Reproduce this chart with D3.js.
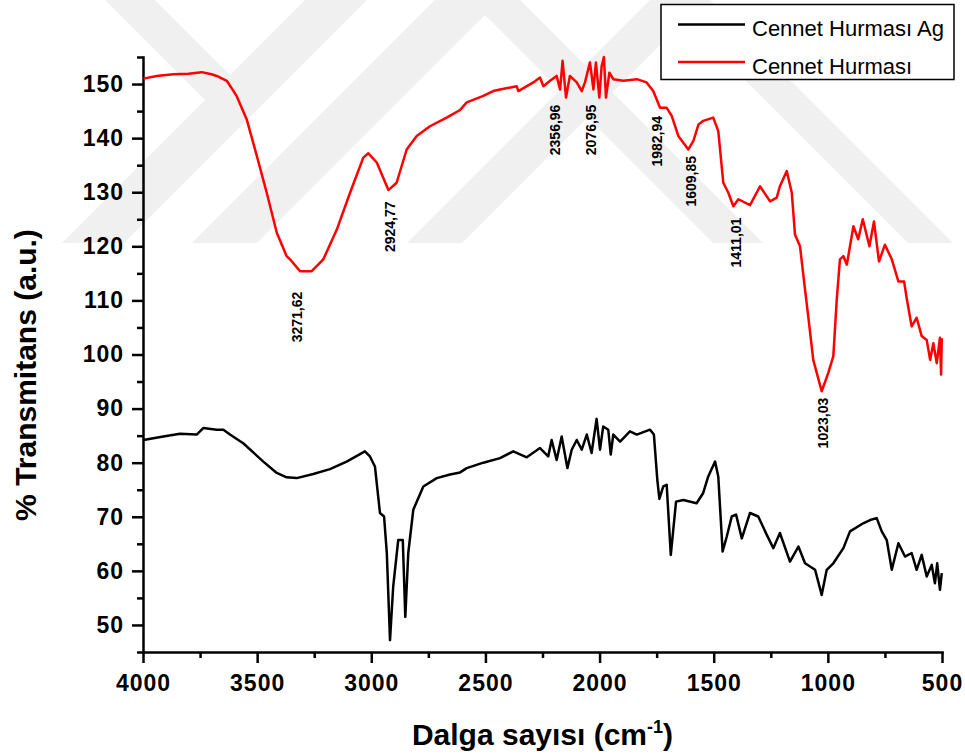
<!DOCTYPE html>
<html>
<head>
<meta charset="utf-8">
<title>FTIR - Cennet Hurması</title>
<script src="https://cdn.jsdelivr.net/npm/d3@7"></script>
<style>
body { margin: 0; background: #fff; }
svg text { font-family: "Liberation Sans", Arial, sans-serif; fill: #000; }
.axis path, .axis line { stroke: #000; stroke-width: 2.5; }
.axis text { font-size: 23px; font-weight: bold; letter-spacing: 1px; }
.spec { fill: none; stroke-width: 2.5; stroke-linejoin: round; }
.peak { font-size: 14px; font-weight: bold; }
.title { font-size: 30px; font-weight: bold; }
.legend text { font-size: 22px; }
</style>
</head>
<body>
<svg id="chart" width="965" height="755"></svg>
<script>
// series names
const seriesNames = ["Cennet Hurması Ag", "Cennet Hurması"];
const seriesColors = ["#000000", "#ff0000"];

// red: Cennet Hurması  [wavenumber, %T]
const redSpectrum = [
  [3998,151.0],[3940,151.5],[3867,151.8],[3800,151.9],[3743,152.2],[3700,151.8],[3677,151.5],
  [3633,150.6],[3590,147.8],[3546,143.5],[3502,136.8],[3458,129.9],[3414,122.5],[3371,118.2],
  [3356,117.6],[3312,115.4],[3261,115.4],[3210,117.6],[3151,123.1],[3093,129.9],[3035,136.4],
  [3013,137.2],[2976,135.5],[2925,130.4],[2889,131.75],[2845,137.9],[2801,140.4],[2743,142.2],
  [2670,143.8],[2611,145.2],[2582,146.6],[2509,147.8],[2466,148.7],[2436,149.0],[2363,149.6],
  [2356,148.7],[2290,150.3],[2261,151.2],[2246,149.6],
  [2217,150.6],[2188,151.5],[2173,149.0],[2162,154.3],[2147,147.5],[2130,151.5],[2100,150.3],
  [2078,148.7],[2064,150.3],[2042,154.0],[2027,149.0],[2016,154.0],[2001,147.5],[1991,153.3],
  [1981,155.0],[1972,147.5],[1957,152.1],[1940,150.9],[1896,150.6],[1837,150.9],[1794,150.3],
  [1765,148.7],[1735,145.6],[1706,145.6],[1684,144.1],[1655,140.4],[1611,137.9],[1589,139.5],
  [1567,142.5],[1546,143.2],[1502,143.8],[1480,141.3],[1458,131.75],[1436,129.9],[1414,127.4],
  [1392,128.7],[1341,127.6],[1297,131.1],[1253,128.3],[1224,129.0],[1210,131.1],[1180,133.9],
  [1158,129.9],[1144,122.2],[1122,120.0],[1100,112.0],[1086,107.1],[1064,99.0],[1027,93.2],
  [998,96.6],[976,99.7],[961,110.2],[947,117.6],[932,118.2],[917,116.6],[903,120.0],[888,123.7],
  [867,121.3],[847,125.0],[818,120.0],[798,124.6],[776,117.2],[750,120.3],[720,117.6],[691,113.5],
  [666,113.5],[655,110.5],[633,105.2],[611,106.8],[589,103.4],[567,102.7],[552,99.0],[538,102.1],
  [523,98.4],[509,103.1],[504,96.3],[501,103.0]
];

// black: Cennet Hurması Ag  [wavenumber, %T]
const blackSpectrum = [
  [3998,84.2],[3911,84.85],[3838,85.35],[3765,85.2],[3736,86.4],[3677,86.1],[3648,86.1],
  [3619,85.2],[3561,83.6],[3473,80.2],[3414,78.1],[3371,77.3],[3327,77.15],[3254,77.9],
  [3181,78.8],[3108,80.2],[3028,82.1],[3006,81.15],[2984,79.3],[2962,70.7],[2944,70.05],
  [2932,63.3],[2918,47.2],[2904,57.1],[2882,65.7],[2862,65.7],[2851,51.5],[2838,63.3],
  [2816,71.3],[2772,75.6],[2713,77.15],[2655,77.8],[2611,78.2],[2582,79.0],[2509,80.0],
  [2436,80.85],[2378,82.1],[2319,81.0],[2261,82.7],[2225,81.15],[2210,84.2],[2188,80.5],
  [2166,84.85],[2141,79.0],[2122,82.4],[2100,84.2],[2078,82.4],[2056,85.2],[2035,81.8],
  [2013,88.1],[1998,82.4],[1984,86.7],[1962,86.1],[1951,81.5],[1940,85.2],[1910,83.9],
  [1867,85.8],[1837,85.2],[1779,86.1],[1762,85.2],[1747,76.8],[1738,73.3],[1721,75.6],
  [1706,75.9],[1688,62.95],[1665,72.8],[1633,73.1],[1575,72.5],[1546,74.4],[1524,77.45],
  [1494,80.2],[1480,77.45],[1461,63.6],[1443,66.3],[1421,70.05],[1402,70.4],[1377,66.0],
  [1341,70.7],[1305,70.05],[1268,66.7],[1239,64.2],[1210,67.0],[1166,61.7],[1129,64.5],
  [1100,61.4],[1056,60.2],[1027,55.55],[1005,60.2],[976,61.4],[932,64.2],[903,67.3],
  [845,68.8],[815,69.4],[786,69.75],[764,67.3],[742,65.7],[720,60.2],[691,65.1],[662,62.65],
  [633,63.3],[611,60.2],[589,62.95],[567,58.95],[545,61.1],[531,57.7],[521,61.4],[509,56.5],
  [501,59.6]
];

// peak labels: text, label centre (cm-1), label top (%T)
const peakLabels = ["3271,62","2924,77","2356,96","2076,95","1982,94","1609,85","1411,01","1023,03"];
const peakX      = [3327, 2918, 2195, 2039, 1748, 1598, 1404, 1020];
const peakTop    = [111.6, 128.3, 146.2, 146.2, 144.1, 136.7, 125.3, 92.0];

// ticks
const xTicks = d3.range(4000, 499, -500);
const xMinor = d3.range(3750, 500, -500);
const yTicks = d3.range(50, 151, 10);
const yMinor = d3.range(45, 156, 10);

const svg = d3.select("#chart");
const plotL = 143, plotR = 942, plotT = 57, plotB = 652;

// faint background watermark (diagonal bands, like the source page)
const wm = svg.append("g").attr("fill", "#f0f0f0");
const wmH = 243;
[[305,367],[435,500],[650,705]].forEach(function(b) {
  wm.append("polygon").attr("points",
    [[b[0],0],[b[1],0],[b[1]-wmH,wmH],[b[0]-wmH,wmH]].join(" "));
});
[[470,520,wmH],[665,710,wmH],[105,155,100]].forEach(function(b) {
  wm.append("polygon").attr("points",
    [[b[0],0],[b[1],0],[b[1]+b[2],b[2]],[b[0]+b[2],b[2]]].join(" "));
});

const x = d3.scaleLinear().domain([4000, 500]).range([plotL, plotR]);
const y = d3.scaleLinear().domain([45, 155]).range([plotB, plotT]);

// minor ticks
svg.append("g").attr("class", "axis")
  .attr("transform", "translate(0," + plotB + ")")
  .call(d3.axisBottom(x).tickValues(xMinor).tickSize(6).tickSizeOuter(0).tickFormat(""))
  .select(".domain").remove();
svg.append("g").attr("class", "axis")
  .attr("transform", "translate(" + plotL + ",0)")
  .call(d3.axisLeft(y).tickValues(yMinor).tickSize(6).tickSizeOuter(0).tickFormat(""))
  .select(".domain").remove();

// major axes
svg.append("g").attr("class", "axis")
  .attr("transform", "translate(0," + plotB + ")")
  .call(d3.axisBottom(x).tickValues(xTicks).tickSize(11).tickSizeOuter(0).tickPadding(12)
    .tickFormat(d3.format("d")));
svg.append("g").attr("class", "axis")
  .attr("transform", "translate(" + plotL + ",0)")
  .call(d3.axisLeft(y).tickValues(yTicks).tickSize(11).tickSizeOuter(0).tickPadding(8)
    .tickFormat(d3.format("d")));

svg.selectAll(".axis path.domain").attr("stroke-linecap", "square");

// spectra
const line = d3.line().x(d => x(d[0])).y(d => y(d[1]));
svg.append("path").attr("class", "spec").attr("d", line(blackSpectrum)).attr("stroke", seriesColors[0]);
svg.append("path").attr("class", "spec").attr("d", line(redSpectrum)).attr("stroke", seriesColors[1]);

// peak annotations
peakLabels.forEach(function(t, i) {
  svg.append("text").attr("class", "peak")
    .attr("transform", "translate(" + x(peakX[i]) + "," + y(peakTop[i]) + ") rotate(-90)")
    .attr("text-anchor", "end")
    .attr("dy", "0.36em")
    .text(t);
});

// axis titles
const xt = svg.append("text").attr("class", "title")
  .attr("x", (plotL + plotR) / 2).attr("y", 745).attr("text-anchor", "middle");
xt.append("tspan").text("Dalga sayısı (cm");
xt.append("tspan").attr("font-size", "18px").attr("dy", -12).text("-1");
xt.append("tspan").attr("dy", 12).text(")");

svg.append("text").attr("class", "title")
  .attr("transform", "translate(36,375) rotate(-90)")
  .attr("text-anchor", "middle")
  .text("% Transmitans (a.u.)");

// legend
const lg = svg.append("g").attr("class", "legend");
lg.append("rect").attr("x", 661).attr("y", 4.5).attr("width", 293).attr("height", 75)
  .attr("fill", "#fff").attr("stroke", "#000").attr("stroke-width", 1.5);
seriesNames.forEach(function(n, i) {
  const ly = 24.5 + i * 37.5;
  lg.append("line").attr("x1", 678).attr("x2", 745).attr("y1", ly).attr("y2", ly)
    .attr("stroke", seriesColors[i]).attr("stroke-width", 2.5);
  lg.append("text").attr("x", 752).attr("y", ly + 11.5).text(n);
});
</script>
</body>
</html>
